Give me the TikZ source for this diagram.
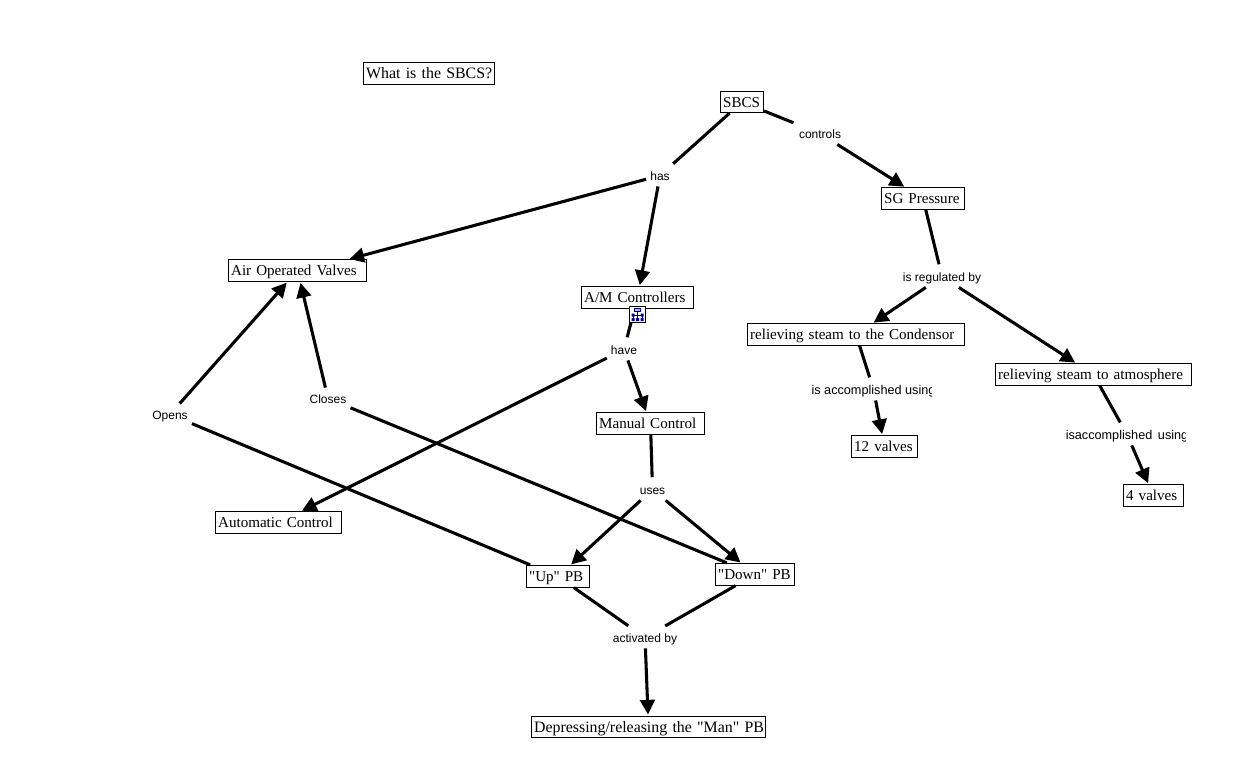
\documentclass[tikz,border=0pt]{standalone}
\usepackage{fontspec}
\usepackage{tikz}
\usetikzlibrary{arrows.meta}
\newfontfamily\conceptfont{Liberation Serif}
\newfontfamily\labelfont{Liberation Sans}

\begin{document}
\begin{tikzpicture}[
            x = 0.75pt, y = -0.75pt,
            > = {Triangle[length=11pt,width=11pt]}, % arrow head style
            shorten > = 1pt, % don't touch arrow head to node
            concept/.style = {shape=rectangle,draw=black,line width=0.7pt,fill=white,inner xsep=2pt,inner ysep=2pt,text width=#1,align=left,font=\conceptfont\fontsize{11.3}{14}\selectfont,text height=10pt,text depth=2pt},
            bigconcept/.style = {concept=#1,font=\conceptfont\fontsize{11.9}{14}\selectfont},
            linking/.style = {shape=rectangle,inner xsep=3pt,inner ysep=4pt,font=\labelfont\fontsize{9}{11}\selectfont,text height=7.5pt,text depth=0.5pt},
            cutlinking/.style = {linking,font=\labelfont\fontsize{9.5}{11}\selectfont},
            link/.style = {line width=2.3pt}
        ]
\useasboundingbox (0,0) rectangle (1234,779);

\node[bigconcept=94.3pt] (Title) at (429,73.5) {\mbox{What is the SBCS?}};
\node[concept=28.3pt] (SBCS) at (742,102) {SBCS};
\node[concept=58.3pt] (SG) at (923,198.5) {SG Pressure};
\node[concept=99.5pt] (AOV) at (297.5,270.5) {Air Operated Valves};
\node[concept=80pt] (AM) at (637.5,297.5) {A/M Controllers};
\node[concept=158.8pt] (Cond) at (856,334.5) {relieving steam to the Condensor};
\node[concept=143pt] (Atm) at (1093.5,374.5) {relieving steam to atmosphere};
\node[concept=77pt] (Manual) at (650.5,423.5) {Manual Control};
\node[concept=45.5pt] (V12) at (884.5,446.5) {12 valves};
\node[concept=41pt] (V4) at (1153.5,495.5) {4 valves};
\node[concept=90.5pt] (Auto) at (278.5,522.5) {Automatic Control};
\node[concept=43.3pt] (Up) at (558,576.5) {"Up" PB};
\node[concept=55.3pt] (Down) at (755,574.5) {"Down" PB};
\node[bigconcept=171.5pt] (Dep) at (648.5,727) {\mbox{Depressing/releasing the "Man" PB}};

\node[linking] (controls) at (820,133.5) {controls};
\node[linking] (has) at (660,175.5) {has};
\node[linking] (regulated) at (942,276.5) {is regulated by};
\node[linking] (have) at (624,349.5) {have};
\node[linking] (Opens) at (170,414.5) {Opens};
\node[linking] (Closes) at (328,398.5) {Closes};
\node[linking] (uses) at (652.5,489.5) {uses};
\node[linking] (activated) at (645,637.5) {activated by};
% these two are cut off at the right
\begin{scope}
\clip (800,375) rectangle (931.7,403);
\node[cutlinking] (accomp) at (873.5,389.5) {is accomplished using};
\end{scope}
\begin{scope}
\clip (1050,420) rectangle (1185,448);
\node[cutlinking] (isaccomp) at (1127,434.5) {isaccomplished\, using};
\end{scope}

\path [link] (SBCS) edge (has);
\path [link] (SBCS) edge (controls);
\path [link,->] (controls) edge (SG);
\path [link,->] (has) edge ([xshift=38pt]AOV.north);
\path [link,->] (has) edge (AM);
\path [link] (SG) edge (regulated);
\path [link,->] (regulated) edge (Cond);
\path [link,->] (regulated) edge (Atm);
\path [link] (Cond) edge (accomp);
\path [link,->] (accomp) edge (V12);
\path [link] (Atm) edge (isaccomp);
\path [link,->] (isaccomp) edge (V4);
\path [link] (AM) edge (have);
\path [link,->] (have) edge (Manual);
\path [link,->] (have) edge (Auto);
\path [link] (Manual) edge (uses);
\path [link,->] (uses) edge (Up);
\path [link,->] (uses) edge (Down);
\path [link] (Up) edge (activated);
\path [link] (Down) edge (activated);
\path [link,->] (activated) edge (Dep);
\path [link,->] (Opens) edge (AOV);
\path [link] (Opens) edge (Up);
\path [link,->] (Closes) edge (AOV);
\path [link] (Closes) edge (Down);

% little hierarchy icon under the controllers box
\node[shape=rectangle,draw=black,line width=0.6pt,fill=white,minimum size=12pt,inner sep=0pt] (Icon) at (637.5,314.5) {};
\draw[blue!50!black,line width=0.5pt] (Icon.center) ++(0,-3) -- ++(0,8) (Icon.center) ++(-4.5,5) |- ++(9,-4) -- ++(0,4);
\fill[blue!30!white,draw=blue!50!black,line width=0.4pt] (Icon.center) ++(-3,-6) rectangle ++(6,3);
\fill[blue!60!black] (Icon.center) ++(-6,-1) rectangle ++(3,3) (Icon.center) ++(3,-1) rectangle ++(3,3) (Icon.center) ++(-6,3.5) rectangle ++(3,3) (Icon.center) ++(-1.5,3.5) rectangle ++(3,3) (Icon.center) ++(3,3.5) rectangle ++(3,3);
\end{tikzpicture}
\end{document}
